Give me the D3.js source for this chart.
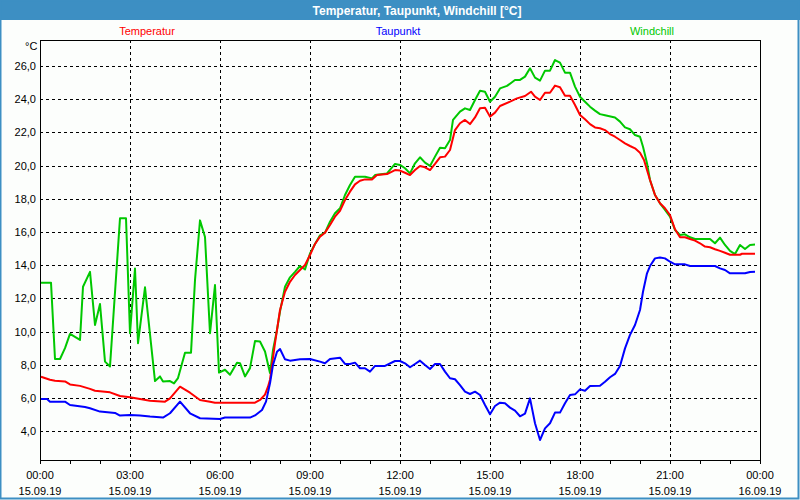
<!DOCTYPE html>
<html>
<head>
<meta charset="utf-8">
<script src="https://cdn.jsdelivr.net/npm/d3@7/dist/d3.min.js"></script>
<style>
  html, body { margin: 0; padding: 0; background: #fcfefc; }
  svg { display: block; }
  text { font-family: "Liberation Sans", Arial, sans-serif; }
</style>
</head>
<body>
<svg id="chart" width="800" height="500"></svg>
<script>
// ---- data (minutes after 15.09.19 00:00, °C) ----
const tempMin = [2,20,30,50,60,80,100,110,140,160,180,200,220,250,260,280,300,320,340,350,430,440,450,456,460,470,480,490,500,510,520,530,540,550,560,570,580,590,600,610,620,630,640,650,664,674,694,710,720,730,740,750,760,770,780,790,800,810,820,830,840,850,860,870,880,890,900,910,920,940,954,970,982,990,1000,1010,1020,1030,1040,1050,1060,1070,1080,1090,1100,1110,1120,1130,1140,1150,1160,1170,1180,1190,1200,1208,1214,1220,1230,1240,1250,1260,1270,1280,1290,1300,1310,1320,1330,1340,1350,1360,1370,1380,1400,1404,1430];
const tempVal = [7.28,7.1,7.04,7.0,6.82,6.73,6.55,6.44,6.34,6.12,6.04,5.94,5.84,5.78,5.98,6.68,6.32,5.88,5.78,5.72,5.72,5.88,6.2,6.68,7.1,9.3,11.3,12.4,13.0,13.41,13.71,14.01,14.61,15.28,15.72,15.96,16.42,16.92,17.28,17.93,18.43,18.87,19.09,19.17,19.17,19.43,19.49,19.73,19.7,19.57,19.43,19.73,19.98,19.9,19.73,20.1,20.5,20.54,20.94,22.14,22.55,22.75,22.5,22.9,23.45,23.49,22.95,23.19,23.59,23.85,24.05,24.19,24.45,24.15,23.95,24.39,24.39,24.82,24.72,24.21,24.21,23.65,23.05,22.79,22.5,22.3,22.25,22.14,21.9,21.74,21.54,21.34,21.18,21.04,20.78,20.34,19.73,19.13,18.23,17.73,17.43,17.02,16.16,15.68,15.68,15.58,15.48,15.32,15.12,15.08,14.96,14.86,14.75,14.63,14.63,14.69,14.69];

const dewMin = [2,14,20,50,60,90,100,120,150,160,180,200,220,246,260,280,300,320,360,370,420,430,444,452,460,466,474,480,490,500,520,540,560,570,580,600,610,620,630,640,650,660,670,690,710,720,730,740,750,760,770,780,790,800,810,820,830,840,850,860,870,880,890,900,910,920,930,940,950,960,970,980,990,1000,1010,1020,1030,1040,1050,1060,1070,1080,1090,1100,1120,1130,1140,1150,1160,1170,1180,1190,1200,1206,1214,1220,1230,1240,1250,1260,1270,1290,1300,1350,1360,1370,1380,1410,1420,1430];
const dewVal = [5.94,5.94,5.78,5.78,5.58,5.46,5.38,5.18,5.1,4.94,4.98,4.94,4.88,4.82,5.08,5.78,5.08,4.78,4.74,4.82,4.82,4.95,5.28,5.78,6.88,7.99,8.79,8.95,8.33,8.25,8.33,8.35,8.19,8.09,8.35,8.43,8.05,8.05,8.13,7.79,7.79,7.59,7.93,7.93,8.23,8.23,8.09,7.85,8.05,8.25,7.99,7.75,8.05,8.05,7.59,7.19,7.13,6.78,6.38,6.24,6.38,6.18,5.58,5.02,5.52,5.72,5.68,5.42,5.24,4.9,5.06,5.98,4.48,3.47,4.17,4.48,5.12,5.12,5.68,6.18,6.22,6.52,6.44,6.72,6.74,6.98,7.25,7.45,7.93,8.99,9.8,10.4,11.3,12.4,13.51,13.95,14.41,14.47,14.41,14.21,14.05,14.05,13.95,13.95,13.81,13.71,13.51,13.51,13.59,13.61];

const chillMin = [2,22,30,40,50,60,80,86,100,110,120,130,140,160,172,180,190,196,210,230,240,246,260,268,276,290,302,310,320,330,340,350,358,370,380,394,400,410,420,430,440,450,460,466,474,480,490,500,510,520,530,540,550,560,570,580,590,600,610,620,630,650,664,670,694,710,720,730,740,750,760,770,780,790,800,810,820,826,840,850,860,870,880,890,900,910,920,934,950,960,970,980,990,1000,1010,1020,1030,1040,1050,1060,1070,1080,1090,1100,1110,1120,1130,1150,1160,1170,1180,1190,1200,1206,1214,1220,1230,1240,1250,1260,1270,1280,1290,1300,1310,1340,1350,1360,1370,1380,1390,1400,1410,1420,1430];
const chillVal = [12.95,12.95,8.35,8.35,9.0,9.86,9.5,12.7,13.6,10.4,11.66,8.19,7.9,16.83,16.83,9.9,13.8,9.3,12.67,7.02,7.3,7.0,7.02,6.88,7.2,8.73,8.73,13.1,16.7,15.7,9.9,12.8,7.53,7.7,7.4,8.13,8.1,7.3,7.8,9.43,9.4,8.8,7.5,8.89,10.1,11.2,12.7,13.27,13.6,13.95,13.75,14.7,15.28,15.8,15.96,16.62,17.13,17.43,18.23,18.83,19.33,19.33,19.23,19.43,19.53,20.1,20.04,19.84,19.53,20.14,20.5,20.18,19.98,20.54,21.08,21.05,21.54,22.75,23.25,23.45,23.35,23.95,24.51,24.45,23.85,24.15,24.65,24.8,25.16,25.16,25.36,25.86,25.3,25.12,25.72,25.72,26.36,26.2,25.6,25.6,24.76,24.15,23.85,23.55,23.31,23.1,23.03,22.9,22.65,22.3,22.19,21.84,21.74,21.14,20.14,19.13,18.23,17.73,17.33,16.92,16.12,15.82,15.86,15.68,15.58,15.58,15.32,15.66,15.22,14.86,14.67,15.22,14.98,15.22,15.24];

const yTicks = [4, 6, 8, 10, 12, 14, 16, 18, 20, 22, 24, 26];
const xTickHours = [0, 3, 6, 9, 12, 15, 18, 21, 24];
const seriesNames = ["Temperatur", "Taupunkt", "Windchill"];
const seriesColors = ["#ff0000", "#0000ff", "#00c800"];
const title = "Temperatur, Taupunkt, Windchill [°C]";

// ---- layout ----
const W = 800, H = 500;
const L = 40, R = 760, T = 40, B = 460;
const t0 = new Date(2019, 8, 15, 0, 0);
const t1 = new Date(2019, 8, 16, 0, 0);
const x = d3.scaleTime().domain([t0, t1]).range([L, R]);
const y = d3.scaleLinear().domain([2.265, 27.566]).range([B, T]);
const toDate = m => new Date(t0.getTime() + m * 60000);

const svg = d3.select("#chart");

// background and frame
svg.append("rect").attr("x", 0).attr("y", 0).attr("width", W).attr("height", H).attr("fill", "#fcfefc");
svg.append("rect").attr("x", 0).attr("y", 0).attr("width", W).attr("height", 20).attr("fill", "#3d8fc3");
svg.append("rect").attr("x", 0.5).attr("y", 0.5).attr("width", W - 2).attr("height", H - 2)
  .attr("fill", "none").attr("stroke", "#3d8fc3").attr("stroke-width", 2);

svg.append("text").attr("x", 417).attr("y", 15).attr("text-anchor", "middle")
  .attr("fill", "#ffffff").attr("font-weight", "bold").attr("font-size", 12).text(title);

// legends
const legendX = [147, 398, 652];
seriesNames.forEach((n, i) => {
  svg.append("text").attr("x", legendX[i]).attr("y", 35).attr("text-anchor", "middle")
    .attr("fill", seriesColors[i]).attr("font-size", 11).text(n);
});

// grid
const grid = svg.append("g").attr("stroke", "#000").attr("stroke-width", 1)
  .attr("stroke-dasharray", "3,3").attr("shape-rendering", "crispEdges");
yTicks.forEach(v => {
  grid.append("line").attr("x1", L).attr("x2", R).attr("y1", Math.round(y(v)) + 0.5).attr("y2", Math.round(y(v)) + 0.5);
});
xTickHours.slice(1, -1).forEach(h => {
  const xx = Math.round(x(toDate(h * 60))) + 0.5;
  grid.append("line").attr("x1", xx).attr("x2", xx).attr("y1", T).attr("y2", B);
});

// y axis labels
const yAxis = d3.axisLeft(y).tickValues(yTicks).tickSize(0).tickPadding(4)
  .tickFormat(v => d3.format(".1f")(v).replace(".", ","));
const gy = svg.append("g").attr("transform", `translate(${L},0)`).call(yAxis);
gy.select(".domain").remove();
gy.selectAll("text").attr("font-size", 11).attr("fill", "#000").attr("font-family", "Liberation Sans, Arial, sans-serif");
svg.append("text").attr("x", 25).attr("y", 50).attr("font-size", 11).attr("fill", "#000").text("°C");

// x axis
const hourTicks = d3.range(0, 25).map(h => toDate(h * 60));
const xAxis = d3.axisBottom(x).tickValues(hourTicks).tickSize(4).tickFormat("");
const gx = svg.append("g").attr("transform", `translate(0,${B})`).call(xAxis);
gx.select(".domain").remove();
gx.selectAll("line").attr("stroke", "#000").attr("shape-rendering", "crispEdges");
const fmtT = d3.timeFormat("%H:%M"), fmtD = d3.timeFormat("%d.%m.%y");
xTickHours.forEach(h => {
  const d = toDate(h * 60);
  const tx = svg.append("text").attr("x", x(d)).attr("text-anchor", "middle").attr("font-size", 11).attr("fill", "#000");
  tx.append("tspan").attr("x", x(d)).attr("y", 479).text(fmtT(d));
  tx.append("tspan").attr("x", x(d)).attr("y", 495).text(fmtD(d));
});

// plot frame
svg.append("rect").attr("x", L + 0.5).attr("y", T + 0.5).attr("width", R - L).attr("height", B - T)
  .attr("fill", "none").attr("stroke", "#000").attr("stroke-width", 1).attr("shape-rendering", "crispEdges");

// lines
const line = d3.line().x(d => x(toDate(d[0]))).y(d => y(d[1]));
const seriesData = [
  d3.zip(tempMin, tempVal),
  d3.zip(dewMin, dewVal),
  d3.zip(chillMin, chillVal)
];
// draw order: green, red, blue (blue on top)
[2, 0, 1].forEach(i => {
  svg.append("path").datum(seriesData[i]).attr("d", line)
    .attr("fill", "none").attr("stroke", seriesColors[i]).attr("stroke-width", 2)
    .attr("stroke-linejoin", "round");
});
</script>
</body>
</html>
